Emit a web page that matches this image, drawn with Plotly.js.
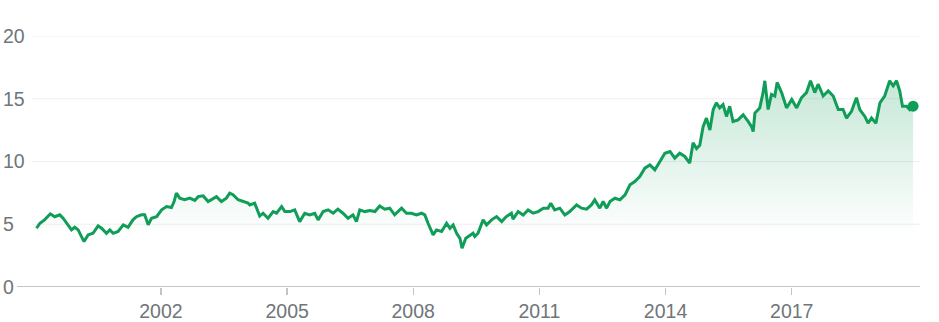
<!DOCTYPE html>
<html>
<head>
<meta charset="utf-8">
<script src="https://cdn.plot.ly/plotly-3.0.1.min.js"></script>
<style>
  html, body { margin: 0; padding: 0; background: #ffffff; }
  #chart { width: 939px; height: 322px; }
</style>
</head>
<body>
<div id="chart"></div>
<script>
// ---- data ----
var dates = [
  "1999-01-16","1999-02-15","1999-03-27","1999-04-26","1999-05-16","1999-06-23","1999-08-06","1999-09-04",
  "1999-10-17","1999-11-16","1999-12-14","2000-01-13","2000-02-11","2000-03-04","2000-04-08","2000-05-21",
  "2000-07-04","2000-08-03","2000-09-15","2000-10-14","2000-11-12","2000-12-25","2001-02-08","2001-03-21",
  "2001-05-03","2001-06-02","2001-07-15","2001-08-13","2001-09-12","2001-10-11","2001-11-24","2002-01-07",
  "2002-02-19","2002-04-02","2002-04-25","2002-05-15","2002-06-13","2002-07-26","2002-09-09","2002-10-22",
  "2002-11-20","2003-01-03","2003-02-15","2003-03-29","2003-04-28","2003-06-10","2003-07-23","2003-08-21",
  "2003-09-19","2003-11-02","2003-12-15","2004-01-28","2004-02-12","2004-03-25","2004-05-08","2004-06-06",
  "2004-07-19","2004-09-02","2004-10-01","2004-11-14","2004-12-12","2005-01-25","2005-03-08","2005-04-20",
  "2005-06-03","2005-07-16","2005-08-29","2005-09-27","2005-11-10","2005-12-23","2006-02-05","2006-03-18",
  "2006-05-01","2006-06-14","2006-07-27","2006-08-26","2006-09-24","2006-11-07","2006-12-20","2007-02-03",
  "2007-03-16","2007-04-29","2007-06-11","2007-07-24","2007-09-22","2007-11-04","2007-12-17","2008-01-30",
  "2008-03-13","2008-04-11","2008-05-09","2008-06-22","2008-07-21","2008-09-04","2008-10-17","2008-11-15",
  "2008-12-13","2009-01-12","2009-02-10","2009-02-28","2009-04-02","2009-05-06","2009-06-04","2009-06-19",
  "2009-07-17","2009-08-30","2009-09-29","2009-11-12","2009-12-25","2010-02-08","2010-03-20","2010-05-03",
  "2010-05-17","2010-06-30","2010-08-13","2010-09-25","2010-11-08","2010-12-21","2011-02-04","2011-03-17",
  "2011-04-10","2011-05-14","2011-06-27","2011-08-10","2011-09-22","2011-11-20","2012-01-03","2012-02-15",
  "2012-03-28","2012-04-26","2012-06-09","2012-07-08","2012-08-07","2012-09-05","2012-10-18","2012-12-01",
  "2013-01-14","2013-02-26","2013-04-09","2013-05-22","2013-07-05","2013-08-18","2013-09-30","2013-11-13",
  "2013-12-26","2014-02-09","2014-03-22","2014-05-04","2014-06-17","2014-07-30","2014-08-28","2014-09-27",
  "2014-10-25","2014-11-23","2014-12-22","2015-01-21","2015-02-19","2015-03-18","2015-04-16","2015-05-15",
  "2015-06-14","2015-07-12","2015-08-10","2015-09-23","2015-11-06","2015-12-19","2016-01-18","2016-02-01",
  "2016-02-16","2016-03-29","2016-04-27","2016-05-12","2016-06-10","2016-07-09","2016-08-07","2016-08-27",
  "2016-10-05","2016-11-17","2017-01-01","2017-02-13","2017-03-26","2017-05-09","2017-06-13","2017-07-20",
  "2017-08-18","2017-10-01","2017-11-14","2017-12-27","2018-02-09","2018-03-23","2018-04-22","2018-06-04",
  "2018-07-17","2018-08-15","2018-09-28","2018-10-26","2018-11-25","2019-01-02","2019-02-06","2019-03-19",
  "2019-05-02","2019-06-01","2019-06-30","2019-07-28","2019-08-21","2019-09-25","2019-10-23","2019-11-21"
];
var prices = [
  4.68,5.08,5.35,5.60,5.83,5.60,5.75,5.48,
  4.95,4.55,4.76,4.55,4.02,3.62,4.15,4.28,
  4.87,4.68,4.28,4.55,4.28,4.42,4.95,4.76,
  5.35,5.60,5.75,5.75,4.95,5.48,5.60,6.15,
  6.41,6.33,6.81,7.48,7.08,6.95,7.08,6.90,
  7.20,7.26,6.81,7.00,7.20,6.81,7.08,7.48,
  7.35,6.95,6.81,6.68,6.54,6.68,5.65,5.88,
  5.48,6.01,5.88,6.41,6.01,6.01,6.15,5.21,
  5.88,5.75,5.88,5.35,6.01,6.15,5.88,6.20,
  5.88,5.48,5.75,5.21,6.15,6.01,6.10,6.01,
  6.46,6.20,6.28,5.75,6.28,5.88,5.88,5.75,
  5.88,5.75,5.08,4.15,4.55,4.42,5.08,4.68,
  4.95,4.28,3.88,3.09,3.88,4.10,4.28,4.02,
  4.28,5.35,4.95,5.35,5.61,5.21,5.61,5.88,
  5.40,6.01,5.74,6.14,5.88,6.01,6.28,6.28,
  6.68,6.14,6.28,5.74,6.01,6.54,6.28,6.20,
  6.54,6.94,6.28,6.81,6.28,6.81,7.07,6.94,
  7.34,8.14,8.40,8.80,9.47,9.73,9.34,10.00,
  10.66,10.80,10.27,10.66,10.40,9.87,11.50,11.03,
  11.30,12.78,13.46,12.51,14.14,14.68,14.27,14.54,
  13.59,14.40,13.19,13.32,13.73,13.19,12.78,12.38,
  13.86,14.27,15.49,16.43,14.14,15.35,15.22,16.30,
  15.49,14.27,14.95,14.27,15.08,15.49,16.43,15.49,
  16.16,15.22,15.62,15.22,14.14,14.14,13.46,14.00,
  15.08,14.14,13.59,13.05,13.46,13.05,14.68,15.22,
  16.43,16.03,16.43,15.62,14.41,14.41,14.14,14.41
];
var xTickVals = ["2002-01-01","2005-01-01","2008-01-01","2011-01-01","2014-01-01","2017-01-01"];
var xTickText = ["2002","2005","2008","2011","2014","2017"];
var yTickVals = [0, 5, 10, 15, 20];
var yTickText = ["0", "5", "10", "15", "20"];

// ---- styles ----
var GREEN = "#0f9d58";
var TEXT = "#70757a";
var AXIS = "#c4c4c4";
var GRID = "#efefef";
var W = 939, ML = 0, MR = 19;
var plotW = W - ML - MR;

var shapes = [];
yTickVals.forEach(function (v) {
  if (v === 0) return;
  shapes.push({
    type: "line", xref: "paper", yref: "y",
    x0: (32 - ML) / plotW, x1: 1, y0: v, y1: v,
    line: { color: GRID, width: 1 }, layer: "below"
  });
});
shapes.push({
  type: "line", xref: "paper", yref: "y",
  x0: (17 - ML) / plotW, x1: 1, y0: 0, y1: 0,
  line: { color: AXIS, width: 2 }, layer: "above"
});

var lineTrace = {
  x: dates, y: prices, type: "scatter", mode: "lines",
  line: { color: GREEN, width: 3 },
  fill: "tozeroy",
  fillgradient: {
    type: "vertical", start: 4.0, stop: 16.6,
    colorscale: [[0, "rgba(15,157,88,0)"], [1, "rgba(15,157,88,0.24)"]]
  },
  hoverinfo: "skip"
};
var endDot = {
  x: [dates[dates.length - 1]], y: [prices[prices.length - 1]],
  type: "scatter", mode: "markers",
  marker: { color: GREEN, size: 11 },
  hoverinfo: "skip"
};

var layout = {
  width: W, height: 322,
  margin: { l: ML, r: MR, t: 36, b: 35, pad: 0 },
  paper_bgcolor: "#ffffff", plot_bgcolor: "rgba(0,0,0,0)",
  showlegend: false,
  font: { family: "Liberation Sans, Arial, sans-serif", color: TEXT, size: 19.5 },
  xaxis: {
    type: "date",
    range: ["1998-03-05", "2020-01-20"],
    tickmode: "array", tickvals: xTickVals, ticktext: xTickText,
    ticks: "outside", ticklen: 7, tickwidth: 1.3, tickcolor: AXIS,
    showgrid: false, zeroline: false, showline: false,
    tickfont: { family: "Liberation Sans, Arial, sans-serif", size: 19.5, color: TEXT },
    fixedrange: true
  },
  yaxis: {
    range: [0, 20],
    tickmode: "array", tickvals: yTickVals, ticktext: yTickText,
    ticklabelposition: "inside", ticklabeloverflow: "allow",
    ticks: "", showgrid: false, zeroline: false, showline: false,
    tickfont: { family: "Liberation Sans, Arial, sans-serif", size: 19.5, color: TEXT },
    fixedrange: true
  },
  shapes: shapes
};

Plotly.newPlot("chart", [lineTrace, endDot], layout, { displayModeBar: false, staticPlot: true });
</script>
</body>
</html>
